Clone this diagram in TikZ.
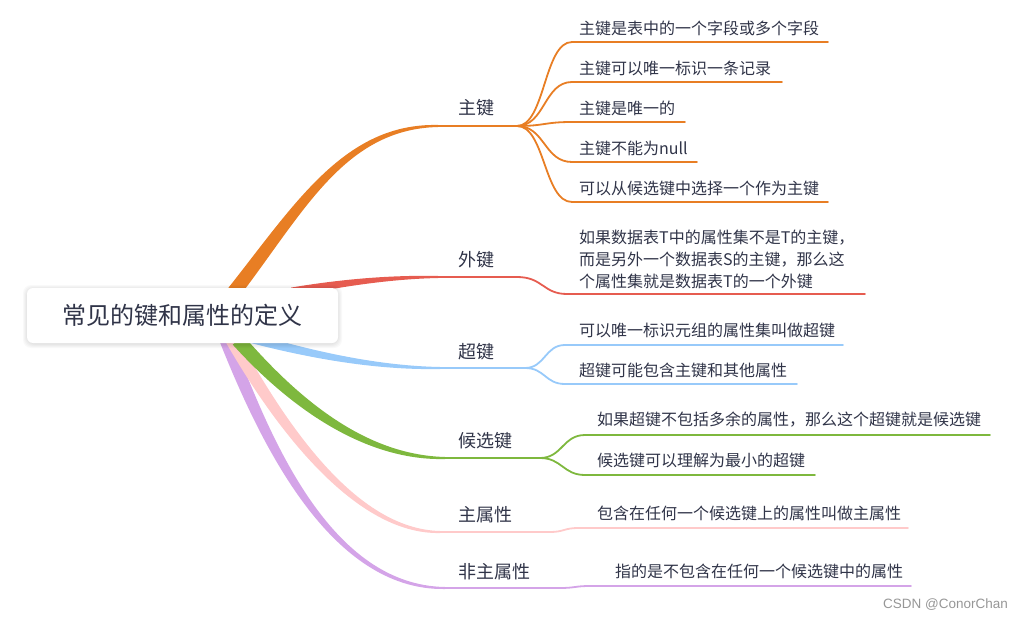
\documentclass[tikz,border=0pt]{standalone}
\usepackage{fontspec}
\setmainfont{Noto Sans CJK SC}
\newfontfamily\wmfont{Liberation Sans}
\usetikzlibrary{calc}
\definecolor{ink}{RGB}{48,52,72}
\definecolor{corange}{RGB}{232,126,36}
\definecolor{cred}{RGB}{230,92,80}
\definecolor{cblue}{RGB}{152,202,250}
\definecolor{cgreen}{RGB}{126,184,62}
\definecolor{cpink}{RGB}{255,202,202}
\definecolor{cpurple}{RGB}{212,164,232}
\definecolor{wmgray}{RGB}{150,150,150}
% tapered branch: #1 colour, #2 start name, #3 ctrl1, #4 ctrl2, #5 end name,
% #6 half width at start, #7 half width at ctrl1, #8 half width at ctrl2
\newcommand\taperbranch[8]{%
  \fill[#1] ($(#2)!#6!90:#3$) .. controls ($#3!#7!-90:(#2)$) and ($#4+(0,-#8)$) .. ($(#5)+(0,-1)$)
     -- ($(#5)+(0,1)$) .. controls ($#4+(0,#8)$) and ($#3!#7!90:(#2)$) .. ($(#2)!#6!-90:#3$) -- cycle;}
\tikzset{
  txt/.style={inner sep=0pt, anchor=west, text=ink},
  leaftxt/.style={txt, font=\fontsize{16}{22}\selectfont, align=left},
  keytxt/.style={txt, font=\fontsize{18}{22}\selectfont},
  thinline/.style={line width=2pt, line cap=round},
  leafline/.style={line width=1.8pt, line cap=round},
  rootbox/.style={fill=white, rounded corners=6pt,
     minimum width=311pt, minimum height=55pt, inner sep=0pt, text=ink,
     font=\fontsize{24}{28}\selectfont},
  shadowbox/.style={fill=black, fill opacity=0.025, rounded corners=8pt},
}
\begin{document}
\begin{tikzpicture}[x=1pt, y=-1pt]
\useasboundingbox (0,0) rectangle (1024,620);

% ---------- coordinates of branch curves ----------
\coordinate (s1) at (234,292);  \coordinate (e1) at (438,126); \coordinate (f1) at (517,126);
\coordinate (s2) at (292,292);  \coordinate (e2) at (438,277); \coordinate (f2) at (517,277);
\coordinate (s3) at (240,335);  \coordinate (e3) at (440,368); \coordinate (f3) at (525,368);
\coordinate (s4) at (238,340);  \coordinate (e4) at (445,458); \coordinate (f4) at (540,458);
\coordinate (s5) at (232,340);  \coordinate (e5) at (440,532); \coordinate (f5) at (550,532);
\coordinate (s6) at (226,340);  \coordinate (e6) at (445,588); \coordinate (f6) at (560,588);

% ---------- main tapered branches ----------
\taperbranch{cpurple}{s6}{(265,440)}{(330,588)}{e6}{6.5pt}{5.6pt}{3}
\taperbranch{cpink}{s5}{(280,425)}{(355,532)}{e5}{6.5pt}{5.6pt}{3}
\taperbranch{cgreen}{s4}{(300,410)}{(370,458)}{e4}{7pt}{6pt}{3}
\taperbranch{cblue}{s3}{(300,352)}{(370,368)}{e3}{5pt}{4.2pt}{2.4}
\taperbranch{cred}{s2}{(340,283)}{(390,277)}{e2}{4.5pt}{3.6pt}{2.1}
\taperbranch{corange}{s1}{(300,207)}{(345,126)}{e1}{7pt}{6pt}{3.2}

\draw[thinline, corange] (e1) -- (f1);
\draw[thinline, cred] (e2) -- (f2);
\draw[thinline, cblue] (e3) -- (f3);
\draw[thinline, cgreen] (e4) -- (f4);
\draw[thinline, cpink] (e5) -- (f5);
\draw[thinline, cpurple] (e6) -- (f6);

% ---------- root ----------
\foreach \d in {0,1,2,3,4}{
  \fill[shadowbox] (27-\d,288-\d+1) rectangle (338+\d,343+\d+1);
}
\node[rootbox] (root) at (182.5,315.5) {常见的键和属性的定义};

% ---------- branch labels ----------
\node[keytxt] (k1) at (458,108) {主键};
\node[keytxt] (k2) at (458,260) {外键};
\node[keytxt] (k3) at (458,352) {超键};
\node[keytxt] (k4) at (458,441) {候选键};
\node[keytxt] (k5) at (458,515) {主属性};
\node[keytxt] (k6) at (458,572) {非主属性};

% ---------- leaves: 主键 ----------
\node[leaftxt] (l11) at (579,28)  {主键是表中的一个字段或多个字段};
\node[leaftxt] (l12) at (579,68)  {主键可以唯一标识一条记录};
\node[leaftxt] (l13) at (579,108) {主键是唯一的};
\node[leaftxt] (l14) at (579,148) {主键不能为null};
\node[leaftxt] (l15) at (579,188) {可以从候选键中选择一个作为主键};
\coordinate (u11) at (572,42);  \coordinate (v11) at (828,42);
\coordinate (u12) at (572,82);  \coordinate (v12) at (782,82);
\coordinate (u13) at (572,122); \coordinate (v13) at (685,122);
\coordinate (u14) at (572,162); \coordinate (v14) at (697,162);
\coordinate (u15) at (572,202); \coordinate (v15) at (828,202);
\foreach \i in {11,12,13,14,15}{
  \draw[leafline, corange] (f1) .. controls +(28,0) and +(-28,0) .. (u\i) -- (v\i);
}

% ---------- leaves: 外键 ----------
\node[leaftxt] (l21) at (579,259) {如果数据表T中的属性集不是T的主键，\\而是另外一个数据表S的主键，那么这\\个属性集就是数据表T的一个外键};
\coordinate (u21) at (567,294); \coordinate (v21) at (865,294);
\draw[leafline, cred] (f2) .. controls +(26,0) and +(-24,0) .. (u21) -- (v21);

% ---------- leaves: 超键 ----------
\node[leaftxt] (l31) at (579,330) {可以唯一标识元组的属性集叫做超键};
\node[leaftxt] (l32) at (579,370) {超键可能包含主键和其他属性};
\coordinate (u31) at (565,345); \coordinate (v31) at (843,345);
\coordinate (u32) at (565,384); \coordinate (v32) at (797,384);
\draw[leafline, cblue] (f3) .. controls +(20,0) and +(-20,0) .. (u31) -- (v31);
\draw[leafline, cblue] (f3) .. controls +(20,0) and +(-20,0) .. (u32) -- (v32);

% ---------- leaves: 候选键 ----------
\node[leaftxt] (l41) at (597,420) {如果超键不包括多余的属性，那么这个超键就是候选键};
\node[leaftxt] (l42) at (597,460) {候选键可以理解为最小的超键};
\coordinate (u41) at (585,435); \coordinate (v41) at (990,435);
\coordinate (u42) at (585,475); \coordinate (v42) at (815,475);
\draw[leafline, cgreen] (f4) .. controls +(22,0) and +(-22,0) .. (u41) -- (v41);
\draw[leafline, cgreen] (f4) .. controls +(22,0) and +(-22,0) .. (u42) -- (v42);

% ---------- leaves: 主属性 / 非主属性 ----------
\node[leaftxt] (l51) at (597,513) {包含在任何一个候选键上的属性叫做主属性};
\coordinate (u51) at (578,528); \coordinate (v51) at (908,528);
\draw[leafline, cpink] (f5) .. controls +(14,0) and +(-14,0) .. (u51) -- (v51);

\node[leaftxt] (l61) at (615,571) {指的是不包含在任何一个候选键中的属性};
\coordinate (u61) at (590,586); \coordinate (v61) at (911,586);
\draw[leafline, cpurple] (f6) .. controls +(15,0) and +(-15,0) .. (u61) -- (v61);

% ---------- watermark ----------
\node[inner sep=0pt, anchor=west, text=wmgray, font=\wmfont\fontsize{13.5}{16}\selectfont] (wm) at (883,605) {CSDN @ConorChan};
\end{tikzpicture}
\end{document}
